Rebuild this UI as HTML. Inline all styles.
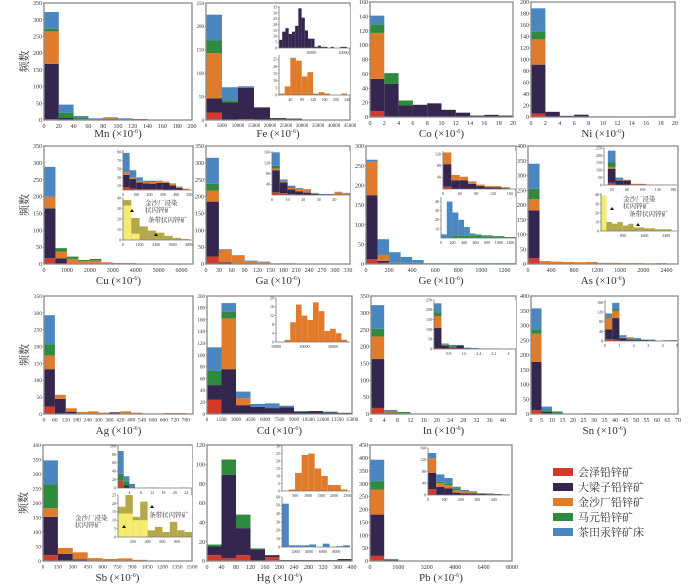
<!DOCTYPE html>
<html><head><meta charset="utf-8"><style>
html,body{margin:0;padding:0;background:#fff;width:700px;height:588px;overflow:hidden}
svg{display:block}
text{font-family:"Liberation Serif","Noto Serif CJK SC",serif;fill:#333}
</style></head><body>
<svg id="fig" width="700" height="588" viewBox="0 0 700 588" xmlns="http://www.w3.org/2000/svg">
<g id="legend">
<rect x="553" y="468" width="20" height="8" fill="#d23a2a"/>
<text x="578" y="476" font-size="11">会泽铅锌矿</text>
<rect x="553" y="483" width="20" height="8" fill="#35264f"/>
<text x="578" y="491" font-size="11">大梁子铅锌矿</text>
<rect x="553" y="498" width="20" height="8" fill="#e07b2c"/>
<text x="578" y="506" font-size="11">金沙厂铅锌矿</text>
<rect x="553" y="513" width="20" height="8" fill="#2e8a3e"/>
<text x="578" y="521" font-size="11">马元铅锌矿</text>
<rect x="553" y="528" width="20" height="8" fill="#4a86c0"/>
<text x="578" y="536" font-size="11">茶田汞锌矿床</text>
</g>
</svg>
<script>
// series order: [会泽, 大梁子, 金沙厂, 马元, 茶田]
const mnCounts=[[3,1,0,0,3,0,3,0,0,1],[165,5,2],[97,0,0,0,3],[8,16,6],[50,24,4,5,2,5]];
const feCounts=[[16,0,2],[30,38,67,27,4,3,1],[97],[27,4],[55,28,3]];
const coCounts=[[8],[45,46,16,17,19,10,6,2,3,2],[64],[12,15,7],[12]];
const niCounts=[[6],[85,9,2,4,1,1,0,0,1,1],[44],[14],[40]];
const cuCounts=[[17],[148,17,2],[35,20,13,8,10,5,3,3],[0,10,7,4,5],[88]];
const gaCounts=[[22,0,1],[163,5],[33,37,23,7,5,2],[20,0,0,0,0,0,2],[77,2,2,3,2]];
const geCounts=[[12,3],[163,5],[85,15],[0,0,3,3,3,2,2,2,2,2,2,2,2],[5,40,27,15,7]];
const asCounts=[[20],[162],[38,10,8,7,6,7,4,4,3,3,2,3],[35],[85]];
const agCounts=[[22],[111,45,7,2,0,0,5],[40,12,10,4,8,4,0,8,4,0,0,3,3],[34],[86]];
const cdCounts=[[24],[25,76,15,12,10,11,4,5,3,2],[0,86,12],[24,11],[40,15,11,5,8,3,1,0,1]];
const inCounts=[[18,2],[145,2,1],[67,3,1,0,0,0,1],[23,3,4,1,1],[70,2]];
const snCounts=[[13,2],[164,5,3],[95],[15,5,5,0,0,2,0,0,2,0,0,0,0,1],[71,13,1]];
const sbCounts=[[20],[132,25,5],[30,20,25,10,7,9,4,1,1,1],[83],[82]];
const hgCounts=[[6,3,6,0,4],[9,86,28,12,2,1,1,1,1,2],[],[2,16,14,1],[]];
const pbCounts=[[20],[160,5,0,0,0,0,2,0,0,2],[97],[33],[83,3]];
// inset data
const feInsetA=[[7,14,17,12,14,19,34,26,15,8,8,1,2,1,1,0,1,0,0,1,1]];
const feInsetB=[[1,6,26,24,13,16,1,2,1,0,0,1]];
const cuInsetA=[[7,3,2,2,2,2,1,1],[29,23,16,14,13,15,16,10,5,1],[6,4,3,3,4,4,3,4,2,2],[0,0,0,1,2,1,0,0,1],[46,17,9,2,1,0,0,1]];
const cuInsetOlive=[38,21,13,9,7,4,2,1];
const cuInsetYellow=[33,6];
const gaInset=[[10,7,3,2,1,0,0,0,2],[83,40,18,12,8,4,2,2],[6,3,7,9,11,2,0,0,8,6],[11,2,2],[50,6,5,3,2,2,2,2,2,2]];
const geInsetA=[[8],[77,30,30,18,10,6,5,3],[40,18,12,8,5,4,5,3]];
const geInsetB=[[0,0,3,3,3,3,3,2,2,2,2,1,1],[4,40,25,17,9,2,1,1,1]];
const asInsetA=[[15],[95,30,30,0,5],[12,5,5,8,3,3,2,2],[30],[80,15]];
const asInsetOlive=[39,10,8,10,6,8,4,4,3,3,2,2,2];
const asInsetYellow=[39];
const cdInset=[[1,9,17,12,10,18,14,5,6,4,1]];
const inInset=[[5,3,3,3],[102,15,5,15,4,0,0,2,2,0,2],[61,3,2,0,0,0,3],[20,3,5],[45,4,6,2,3,5,0,0,0,1]];
const snInset=[[8,5],[40,90,12,6,4,4,2,0,2,3],[48,30,4,4],[4,8,0,2,2,0,2],[14,25,8,3,6,2,2,1,1]];
const sbInsetA=[[17],[0,6,2],[],[17,10],[54,12,8,0,0,1,1,0,0,0,0,1]];
const sbInsetOlive=[18,25,12,21,4,6,3,9,4,3];
const sbInsetYellow=[14,14,10,10];
const hgInsetA=[[1,12,24,25,15,10,4,4,1]];
const hgInsetB=[[52,2,2,2,3,0,4,0,1,2]];
const pbInset=[[20],[55,28,23,8,6,5,4,3,3],[50,12,10,8,6,4,2,1],[0,5,7,7,0,2],[18,25,18,5,5,2,1,2,0,2]];

const COLORS=['#d23a2a','#35264f','#e07b2c','#2e8a3e','#4a86c0'];
const NS='http://www.w3.org/2000/svg';
const fig=document.getElementById('fig');
function el(tag,attrs,parent){const e=document.createElementNS(NS,tag);for(const k in attrs)e.setAttribute(k,attrs[k]);(parent||fig).appendChild(e);return e;}
function fmt(v){return String(v);}
function hist(p){
  const g=el('g',{});
  
  
  const sx=v=>p.x0+(v-p.xmin)/(p.xmax-p.xmin)*(p.x1-p.x0);
  const sy=v=>p.y1-v/p.ymax*(p.y1-p.y0);
  if(p.inset){const bg=el('rect',{x:p.x0,y:p.y0,width:p.x1-p.x0,height:p.y1-p.y0,fill:'#fff'},g);
    
    }
  const cols=p.colors||COLORS;
  let n=0;p.data.forEach(s=>n=Math.max(n,s.length));
  for(let i=0;i<n;i++){
    let cum=0;
    for(let s=0;s<p.data.length;s++){
      const v=p.data[s][i]||0;
      if(v>0){
        const top=p.overlay?v:cum+v, bot=p.overlay?0:cum;
        const a=sx(p.start+i*p.bw), b=sx(p.start+(i+1)*p.bw);
        const r=el('rect',{x:a,y:sy(top),width:Math.max(0.5,b-a),height:Math.max(0.4,sy(bot)-sy(top)),fill:cols[s]},g);
        
        
      }
      if(!p.overlay)cum+=v;
    }
  }
  const fs=p.fs||(p.inset?5:6);
  if(p.inset){
    el('path',{d:`M${p.x0} ${p.y0}V${p.y1}H${p.x1}`,stroke:'#777','stroke-width':0.8,fill:'none'},g);
  }else{
    const f=el('rect',{x:p.x0,y:p.y0,width:p.x1-p.x0,height:p.y1-p.y0,fill:'none',stroke:'#8a8a8a','stroke-width':1.3},g);
    
    
  }
  p.yticks.forEach(t=>{const y=sy(t);
    const tx=el('text',{x:p.x0-2,y:y+fs*0.35,'font-size':fs,'text-anchor':'end'},g);tx.textContent=fmt(t);
    
    
    el('line',{x1:p.x0-1.5,x2:p.x0,y1:y,y2:y,stroke:'#777','stroke-width':0.6},g);});
  p.xticks.forEach(t=>{const x=sx(t);
    const tx=el('text',{x:x,y:p.y1+fs+2,'font-size':fs,'text-anchor':'middle'},g);tx.textContent=fmt(t);
    
    });
  if(p.title){
    const t=el('text',{x:(p.x0+p.x1)/2,y:p.ty,'font-size':11,'text-anchor':'middle'},g);
    t.textContent=p.title+' (×10';
    const sup=el('tspan',{dy:-4,'font-size':6},t);sup.textContent='-6';
    const cl=el('tspan',{dy:4},t);cl.textContent=')';
    
    
  }
  if(p.ylabel){
    const t=el('text',{x:0,y:0,'font-size':11,'text-anchor':'middle',transform:`translate(${p.x0-16},${(p.y0+p.y1)/2}) rotate(-90)`},g);
    t.textContent='频数';
    
    
  }
  return g;
}
function rng(a,b,s){const r=[];for(let v=a;v<=b+1e-9;v+=s)r.push(Math.round(v*10)/10);return r;}
function note(x,y,lines,ax,ay){
  lines.forEach((l,i)=>{const t=el('text',{x:x,y:y+i*7,'font-size':6.5});t.textContent=l;
    
    });
  const a=el('path',{d:`M${ax} ${ay}l-2 3h4z`,fill:'#111'});
  
  
}
const Y=[[3,120,137],[146,264,284],[296,414,434],[445,561,581]];
const OLIVE=['#b5a84b','#f6ec72'];
// Row 1
hist({name:'mn-histogram',x0:44,x1:192,y0:Y[0][0],y1:Y[0][1],ty:Y[0][2],xmin:0,xmax:200,ymax:350,start:0,bw:20,data:mnCounts,xticks:rng(0,200,20),yticks:rng(0,350,50),title:'Mn',ylabel:true});
hist({name:'fe-histogram',x0:206,x1:350,y0:Y[0][0],y1:Y[0][1],ty:Y[0][2],xmin:0,xmax:45000,ymax:250,start:0,bw:5000,data:feCounts,xticks:rng(0,45000,5000),yticks:rng(0,250,50),title:'Fe',fs:5});
hist({name:'fe-inset-daliangzi',inset:true,x0:279,x1:350,y0:6,y1:48,xmin:0,xmax:22000,ymax:36,start:0,bw:1000,data:feInsetA,colors:['#35264f'],xticks:[10000,20000],yticks:rng(0,35,5),fs:4});
hist({name:'fe-inset-jinshachang',inset:true,x0:279,x1:350,y0:55,y1:95,xmin:0,xmax:250,ymax:28,start:0,bw:20,data:feInsetB,colors:['#e07b2c'],xticks:rng(40,240,40),yticks:rng(0,25,5),fs:4});
hist({name:'co-histogram',x0:370,x1:513,y0:2,y1:117,ty:Y[0][2],xmin:0,xmax:20,ymax:160,start:0,bw:2,data:coCounts,xticks:rng(0,20,2),yticks:rng(0,160,20),title:'Co'});
hist({name:'ni-histogram',x0:531,x1:675,y0:2,y1:117,ty:Y[0][2],xmin:0,xmax:20,ymax:200,start:0,bw:2,data:niCounts,xticks:rng(0,20,2),yticks:rng(0,200,20),title:'Ni'});
// Row 2
hist({name:'cu-histogram',x0:44,x1:193,y0:Y[1][0],y1:Y[1][1],ty:Y[1][2],xmin:0,xmax:6500,ymax:350,start:0,bw:500,data:cuCounts,xticks:rng(0,6000,1000),yticks:rng(0,350,50),title:'Cu',ylabel:true});
hist({name:'cu-inset-main',inset:true,x0:123,x1:192,y0:150,y1:190,xmin:0,xmax:520,ymax:95,start:0,bw:50,data:cuInsetA,xticks:rng(0,500,100),yticks:[10,30,50,70,90],fs:4});
hist({name:'cu-inset-sphalerite',inset:true,overlay:true,x0:123,x1:192,y0:198,y1:240,xmin:0,xmax:5000,ymax:40,start:0,bw:600,data:[cuInsetOlive,cuInsetYellow],colors:OLIVE,xticks:rng(0,4800,1200),yticks:rng(0,40,10),fs:4});
note(145,205,['金沙厂浸染','状闪锌矿'],132,209);
note(148,222,['条带状闪锌矿'],156,233);
hist({name:'ga-histogram',x0:206,x1:350,y0:Y[1][0],y1:Y[1][1],ty:Y[1][2],xmin:0,xmax:335,ymax:350,start:0,bw:30,data:gaCounts,xticks:rng(0,330,30),yticks:rng(0,350,50),title:'Ga'});
hist({name:'ga-inset',inset:true,x0:272,x1:350,y0:151,y1:195,xmin:0,xmax:50,ymax:165,start:0,bw:5,data:gaInset,xticks:rng(0,40,10),yticks:[40,80,120,160],fs:4});
hist({name:'ge-histogram',x0:366,x1:516,y0:Y[1][0],y1:Y[1][1],ty:Y[1][2],xmin:0,xmax:1300,ymax:300,start:0,bw:100,data:geCounts,xticks:rng(0,1200,200),yticks:rng(0,300,50),title:'Ge'});
hist({name:'ge-inset-a',inset:true,x0:443,x1:516,y0:151,y1:189,xmin:0,xmax:175,ymax:130,start:0,bw:20,data:geInsetA,xticks:rng(0,160,40),yticks:[40,80,120],fs:4});
hist({name:'ge-inset-b',inset:true,x0:441,x1:516,y0:197,y1:238,xmin:0,xmax:1300,ymax:45,start:0,bw:100,data:geInsetB,colors:['#2e8a3e','#4a86c0'],xticks:rng(0,1200,200),yticks:rng(10,40,10),fs:4});
hist({name:'as-histogram',x0:528,x1:678,y0:Y[1][0],y1:Y[1][1],ty:Y[1][2],xmin:0,xmax:2600,ymax:400,start:0,bw:200,data:asCounts,xticks:rng(0,2600,400),yticks:rng(0,400,50),title:'As'});
hist({name:'as-inset-a',inset:true,x0:604,x1:677,y0:148,y1:185,xmin:0,xmax:190,ymax:250,start:10,bw:20,data:asInsetA,xticks:rng(20,180,40),yticks:rng(0,250,50),fs:4});
hist({name:'as-inset-sphalerite',inset:true,overlay:true,x0:601,x1:677,y0:193,y1:231,xmin:0,xmax:2800,ymax:42,start:0,bw:200,data:[asInsetOlive,asInsetYellow],colors:OLIVE,xticks:rng(800,2400,800),yticks:rng(0,40,10),fs:4});
note(623,201,['金沙厂浸染','状闪锌矿'],612,207);
note(629,216,['条带状闪锌矿'],638,223);
// Row 3
hist({name:'ag-histogram',x0:44,x1:193,y0:Y[2][0],y1:Y[2][1],ty:Y[2][2],xmin:0,xmax:820,ymax:350,start:0,bw:60,data:agCounts,xticks:rng(0,780,60),yticks:rng(0,350,50),title:'Ag',ylabel:true,fs:5.5});
hist({name:'cd-histogram',x0:207,x1:352,y0:Y[2][0],y1:Y[2][1],ty:Y[2][2],xmin:0,xmax:15000,ymax:200,start:0,bw:1500,data:cdCounts,xticks:rng(0,15000,1500),yticks:rng(0,200,20),title:'Cd',fs:5});
hist({name:'cd-inset',inset:true,x0:276,x1:350,y0:298,y1:342,xmin:10000,xmax:36000,ymax:20,start:13000,bw:2000,data:cdInset,colors:['#e07b2c'],xticks:[10000,20000,30000],yticks:rng(0,20,4),fs:4});
hist({name:'in-histogram',x0:371,x1:516,y0:Y[2][0],y1:Y[2][1],ty:Y[2][2],xmin:0,xmax:44,ymax:350,start:0,bw:4,data:inCounts,xticks:rng(0,40,4),yticks:rng(0,350,50),title:'In'});
hist({name:'in-inset',inset:true,x0:434,x1:516,y0:300,y1:349,xmin:0,xmax:4.4,ymax:250,start:0,bw:0.4,data:inInset,xticks:[0.8,1.6,2.4,3.2,4.0],yticks:rng(0,250,50),fs:4});
hist({name:'sn-histogram',x0:531,x1:678,y0:Y[2][0],y1:Y[2][1],ty:Y[2][2],xmin:0,xmax:70,ymax:400,start:0,bw:5,data:snCounts,xticks:rng(0,70,5),yticks:rng(0,400,50),title:'Sn'});
hist({name:'sn-inset',inset:true,x0:605,x1:677,y0:300,y1:341,xmin:0,xmax:5,ymax:170,start:0,bw:0.5,data:snInset,xticks:rng(0,5,1),yticks:rng(0,160,40),fs:4});
// Row 4
hist({name:'sb-histogram',x0:43,x1:192,y0:Y[3][0],y1:Y[3][1],ty:Y[3][2],xmin:0,xmax:1500,ymax:400,start:0,bw:150,data:sbCounts,xticks:rng(0,1500,150),yticks:rng(0,400,50),title:'Sb',ylabel:true,fs:5.5});
hist({name:'sb-inset-a',inset:true,x0:118,x1:192,y0:446,y1:488,xmin:0,xmax:26,ymax:100,start:0,bw:2,data:sbInsetA,xticks:rng(4,24,4),yticks:rng(0,100,20),fs:4});
hist({name:'sb-inset-sphalerite',inset:true,overlay:true,x0:118,x1:192,y0:495,y1:537,xmin:0,xmax:1000,ymax:25,start:0,bw:100,data:[sbInsetOlive,sbInsetYellow],colors:OLIVE,xticks:[200,400,600,800],yticks:rng(0,25,5),fs:4});
note(75,520,['金沙厂浸染','状闪锌矿'],124,525);
note(149,517,['条带状闪锌矿'],152,505);
hist({name:'hg-histogram',x0:207,x1:352,y0:Y[3][0],y1:Y[3][1],ty:Y[3][2],xmin:0,xmax:400,ymax:120,start:0,bw:40,data:hgCounts,xticks:rng(0,400,40),yticks:rng(0,120,20),title:'Hg'});
hist({name:'hg-inset-a',inset:true,x0:282,x1:350,y0:446,y1:491,xmin:0,xmax:2600,ymax:30,start:250,bw:250,data:hgInsetA,colors:['#e07b2c'],xticks:rng(500,2500,500),yticks:rng(0,30,5),fs:4});
hist({name:'hg-inset-b',inset:true,x0:282,x1:350,y0:497,y1:547,xmin:0,xmax:10000,ymax:60,start:0,bw:1000,data:hgInsetB,colors:['#4a86c0'],xticks:rng(2000,8000,2000),yticks:rng(0,60,10),fs:4});
hist({name:'pb-histogram',x0:370,x1:512,y0:Y[3][0],y1:Y[3][1],ty:Y[3][2],xmin:0,xmax:8000,ymax:450,start:0,bw:800,data:pbCounts,xticks:rng(0,8000,1600),yticks:rng(0,450,50),title:'Pb'});
hist({name:'pb-inset',inset:true,x0:428,x1:510,y0:448,y1:495,xmin:0,xmax:500,ymax:160,start:0,bw:50,data:pbInset,xticks:rng(0,400,100),yticks:rng(0,160,40),fs:4});
fig.appendChild(document.getElementById('legend'));
</script>
</body></html>
